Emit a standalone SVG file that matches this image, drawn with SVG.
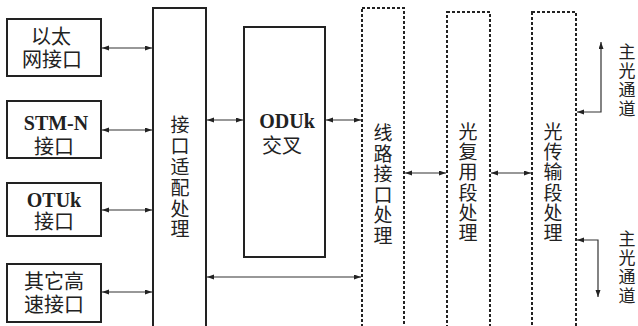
<svg xmlns="http://www.w3.org/2000/svg" width="638" height="326" viewBox="0 0 638 326">
<style>
.box{fill:#fff;stroke:#222;stroke-width:2}
.dash{fill:#fff;stroke:#222;stroke-width:2;stroke-dasharray:3 2}
.t{font-family:'Liberation Serif','Noto Sans CJK SC',serif;font-size:20px;fill:#222;text-anchor:middle}
.v{font-family:'Liberation Serif','Noto Sans CJK SC',serif;font-size:19px;fill:#222;text-anchor:middle}
.s{font-family:'Liberation Serif','Noto Sans CJK SC',serif;font-size:17px;fill:#222;text-anchor:middle}
.l{font-family:'Liberation Serif','Times New Roman',serif;font-size:20px;font-weight:bold;fill:#222;text-anchor:middle}
.c{fill:none;stroke:#333;stroke-width:1.2;marker-start:url(#ah);marker-end:url(#ah)}
</style>
<defs>
<marker id="ah" markerUnits="userSpaceOnUse" markerWidth="8" markerHeight="6" refX="7" refY="2.5" orient="auto-start-reverse">
<path d="M0,0 L7,2.5 L0,5 z" fill="#222"/>
</marker>
</defs>
<rect width="638" height="326" fill="#fff"/>
<g id="eth"><rect class="box" x="7" y="19" width="94" height="57"/><text class="t" x="51" y="44">以太</text><text class="t" x="52" y="67">网接口</text></g>
<g id="stm"><rect class="box" x="7" y="101" width="94" height="57"/><text class="l" x="56" y="130">STM-N</text><text class="t" x="54" y="154">接口</text></g>
<g id="otu"><rect class="box" x="7" y="183" width="94" height="53"/><text class="l" x="54" y="207">OTUk</text><text class="t" x="54" y="229">接口</text></g>
<g id="other"><rect class="box" x="7" y="264" width="94" height="58"/><text class="t" x="54" y="289">其它高</text><text class="t" x="54" y="312">速接口</text></g>
<g id="adapt"><rect class="box" x="153" y="8" width="53" height="330"/>
<text class="v"><tspan x="180" y="132">接</tspan><tspan x="180" y="153">口</tspan><tspan x="180" y="174">适</tspan><tspan x="180" y="195">配</tspan><tspan x="180" y="216">处</tspan><tspan x="180" y="236">理</tspan></text></g>
<g id="oduk"><rect class="box" x="244" y="27" width="81" height="230"/><text class="l" x="287" y="128">ODUk</text><text class="t" x="282" y="153">交叉</text></g>
<g id="line"><rect class="dash" x="362" y="8" width="42" height="330"/>
<text class="v"><tspan x="383" y="140">线</tspan><tspan x="383" y="161">路</tspan><tspan x="383" y="181">接</tspan><tspan x="383" y="202">口</tspan><tspan x="383" y="222">处</tspan><tspan x="383" y="243">理</tspan></text></g>
<g id="oms"><rect class="dash" x="447" y="12" width="43" height="330"/>
<text class="v"><tspan x="468" y="139">光</tspan><tspan x="468" y="159">复</tspan><tspan x="468" y="179">用</tspan><tspan x="468" y="200">段</tspan><tspan x="468" y="220">处</tspan><tspan x="468" y="240">理</tspan></text></g>
<g id="ots"><rect class="dash" x="532" y="12" width="44" height="330"/>
<text class="v"><tspan x="553" y="139">光</tspan><tspan x="553" y="159">传</tspan><tspan x="553" y="179">输</tspan><tspan x="553" y="200">段</tspan><tspan x="553" y="220">处</tspan><tspan x="553" y="240">理</tspan></text></g>
<g id="main1"><text class="s"><tspan x="627" y="58">主</tspan><tspan x="627" y="77">光</tspan><tspan x="627" y="96">通</tspan><tspan x="627" y="115">道</tspan></text></g>
<g id="main2"><text class="s"><tspan x="627" y="245">主</tspan><tspan x="627" y="264">光</tspan><tspan x="627" y="283">通</tspan><tspan x="627" y="302">道</tspan></text></g>
<g id="connectors">
<path class="c" d="M102,48 H152"/>
<path class="c" d="M102,130 H152"/>
<path class="c" d="M102,210 H152"/>
<path class="c" d="M102,292 H152"/>
<path class="c" d="M207,120 H243"/>
<path class="c" d="M326,120 H361"/>
<path class="c" d="M207,277 H361"/>
<path class="c" d="M405,173 H446"/>
<path class="c" d="M491,173 H531"/>
<path class="c" d="M577,112 H601 V42"/>
<path class="c" d="M577,240 H598 V297"/>
</g>
</svg>
